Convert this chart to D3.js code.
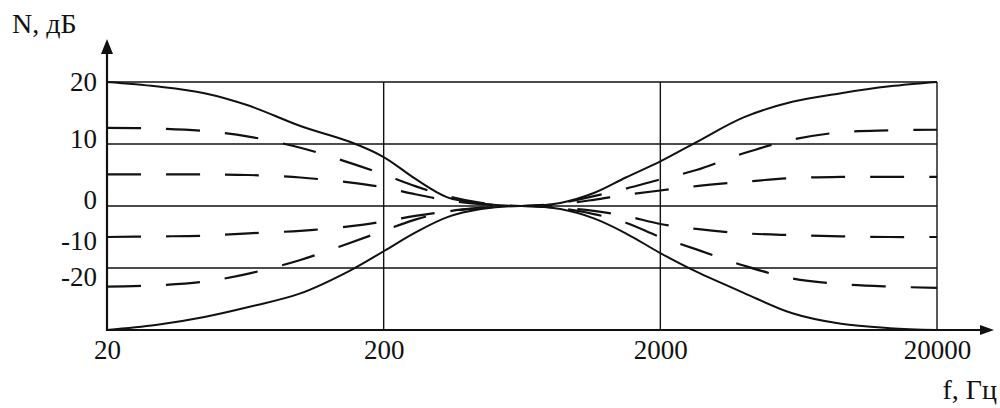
<!DOCTYPE html>
<html>
<head>
<meta charset="utf-8">
<script src="https://cdn.jsdelivr.net/npm/d3@7"></script>
<style>
  html, body { margin: 0; padding: 0; background: #fff; }
  text { font-family: "Liberation Serif", "DejaVu Serif", serif; fill: #111; }
</style>
</head>
<body>
<div id="chart"></div>
<script>
const freqs = [20, 30, 45, 65, 100, 150, 200, 260, 340, 450, 630, 870, 1150, 1500, 2000, 2700, 4000, 6000, 9000, 13500, 20000];

// level, dB
const solidUp   = [20, 19.3, 18.2, 16.2, 12.9, 10.4, 7.9, 4.4, 1.4, 0.4, 0, 0.5, 2.1, 4.6, 7.2, 10.3, 14.3, 16.8, 18.2, 19.3, 20];
const solidDown = [-20, -19.2, -17.9, -16.3, -14.1, -10.5, -7.3, -4.3, -1.8, -0.5, 0, -0.5, -2.0, -4.4, -7.6, -10.6, -14.0, -17.3, -19.0, -19.7, -20];
const dashUp1   = [12.6, 12.5, 12.1, 11.2, 9.4, 7.0, 5.1, 3.2, 1.6, 0.5, 0, 0.5, 1.6, 2.8, 4.3, 5.8, 8.5, 10.7, 11.9, 12.2, 12.3];
const dashUp2   = [5.1, 5.1, 5.1, 5.0, 4.6, 3.8, 3.0, 1.9, 0.9, 0.3, 0, 0.3, 1.0, 1.8, 2.5, 3.2, 3.9, 4.5, 4.7, 4.7, 4.7];
const dashDown1 = [-5.0, -4.9, -4.8, -4.4, -4.0, -3.3, -2.5, -1.6, -0.9, -0.3, 0, -0.3, -0.8, -1.6, -2.9, -3.7, -4.4, -4.7, -4.9, -5.0, -5.0];
const dashDown2 = [-13.0, -12.8, -12.2, -10.9, -8.7, -6.0, -4.0, -2.2, -0.9, -0.3, 0, -0.4, -1.3, -2.7, -5.0, -7.0, -9.6, -11.7, -12.6, -13.0, -13.2];

// axes
const xTicks = [20, 200, 2000, 20000];
const xTickLabels = ["20", "200", "2000", "20000"];
const gridLevels = [20, 10, 0, -10];
const yLabelPos = [20, 10.8, 1, -5.6, -11.4];   // where the labels sit in the original
const yTickLabels = ["20", "10", "0", "-10", "-20"];

const width = 1000, height = 408;

const svg = d3.select("#chart")
  .append("svg")
  .attr("width", width)
  .attr("height", height);

const x = d3.scaleLog()
  .domain([20, 20000])
  .range([107, 937]);

const y = d3.scaleLinear()
  .domain([-20, 20])
  .range([330, 82]);

// horizontal grid
svg.append("g")
  .selectAll("line")
  .data(gridLevels)
  .enter()
  .append("line")
  .attr("x1", x(20))
  .attr("x2", x(20000))
  .attr("y1", d => y(d))
  .attr("y2", d => y(d))
  .attr("stroke", "#111")
  .attr("stroke-width", 1.4);

// vertical grid
svg.append("g")
  .selectAll("line")
  .data(xTicks.slice(1))
  .enter()
  .append("line")
  .attr("x1", d => x(d))
  .attr("x2", d => x(d))
  .attr("y1", y(20))
  .attr("y2", y(-20))
  .attr("stroke", "#111")
  .attr("stroke-width", 1.4);

// X axis
svg.append("line")
  .attr("x1", x(20)).attr("x2", 985)
  .attr("y1", y(-20)).attr("y2", y(-20))
  .attr("stroke", "#111").attr("stroke-width", 2.2);
svg.append("path")
  .attr("d", `M994,${y(-20)} L980,${y(-20) - 5} L980,${y(-20) + 5} Z`)
  .attr("fill", "#111");

const xAxis = svg.append("g")
  .attr("transform", "translate(0," + y(-20) + ")")
  .call(d3.axisBottom(x).tickValues(xTicks).tickSize(0).tickPadding(10)
    .tickFormat((d, i) => xTickLabels[i]));
xAxis.select(".domain").remove();
xAxis.selectAll("text")
  .attr("dy", "0.71em")
  .style("font-size", "27px")
  .style("font-family", "Liberation Serif");

// Y axis
svg.append("line")
  .attr("x1", x(20)).attr("x2", x(20))
  .attr("y1", y(-20) + 1).attr("y2", 50)
  .attr("stroke", "#111").attr("stroke-width", 2.2);
svg.append("path")
  .attr("d", `M${x(20)},39 L${x(20) - 6},54 L${x(20) + 6},54 Z`)
  .attr("fill", "#111");

const yAxis = svg.append("g")
  .attr("transform", "translate(97,0)")
  .call(d3.axisLeft(y).tickValues(yLabelPos).tickSize(0).tickPadding(0)
    .tickFormat((d, i) => yTickLabels[i]));
yAxis.select(".domain").remove();
yAxis.selectAll("text")
  .style("font-size", "27px")
  .style("font-family", "Liberation Serif");

// curves
const line = d3.line()
  .x(d => x(d[0]))
  .y(d => y(d[1]))
  .curve(d3.curveCatmullRom.alpha(0.5));

const curves = [
  { values: solidUp, dashed: false },
  { values: solidDown, dashed: false },
  { values: dashUp1, dashed: true },
  { values: dashUp2, dashed: true },
  { values: dashDown1, dashed: true },
  { values: dashDown2, dashed: true }
];

svg.append("g")
  .selectAll("path")
  .data(curves)
  .enter()
  .append("path")
  .attr("d", d => line(freqs.map((f, i) => [f, d.values[i]])))
  .attr("fill", "none")
  .attr("stroke", "#111")
  .attr("stroke-width", d => d.dashed ? 2.2 : 2)
  .attr("stroke-dasharray", d => d.dashed ? "34,25" : null);

// axis titles
svg.append("text")
  .attr("x", 12)
  .attr("y", 33)
  .style("font-size", "28px")
  .text("N, дБ");

svg.append("text")
  .attr("x", 997)
  .attr("y", 399)
  .attr("text-anchor", "end")
  .style("font-size", "28px")
  .text("f, Гц");
</script>
</body>
</html>
